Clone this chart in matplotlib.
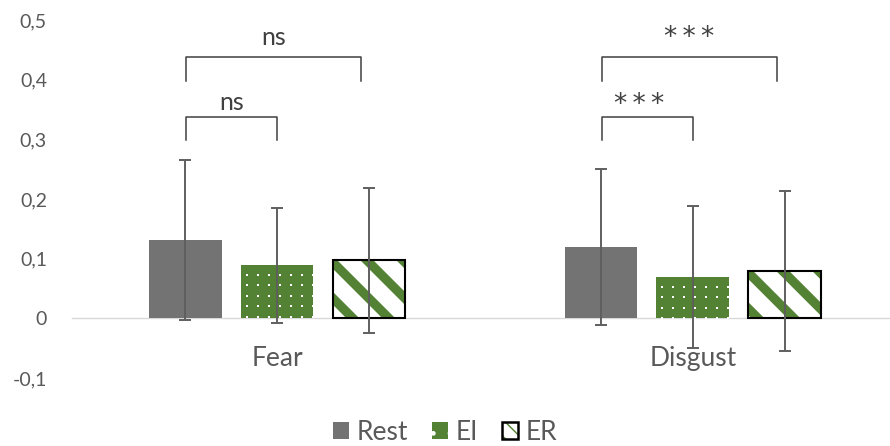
import numpy as np
import matplotlib
matplotlib.use('Agg')
from matplotlib import pyplot as plt
from matplotlib.patches import Patch, Polygon
from matplotlib.legend_handler import HandlerTuple

plt.rcParams['font.family'] = ['Lato', 'DejaVu Sans']

grey_bar = '#737373'
green = '#548235'
text_grey = '#595959'
dark = '#404040'
axis_grey = '#d9d9d9'

categories = ['Fear', 'Disgust']
conditions = ['Rest', 'EI', 'ER']
rest_mean = [0.131, 0.119]
rest_err = [0.134, 0.131]
ei_mean = [0.089, 0.069]
ei_err = [0.096, 0.119]
er_mean = [0.097, 0.079]
er_err = [0.121, 0.134]
sig_inner = ['ns', '***']   # Rest vs EI
sig_outer = ['ns', '***']   # Rest vs ER
yticks = [-0.1, 0, 0.1, 0.2, 0.3, 0.4, 0.5]
ytick_labels = ['-0,1', '0', '0,1', '0,2', '0,3', '0,4', '0,5']

W, H = 890, 446
fig = plt.figure(figsize=(W/100, H/100), dpi=100)
ax = fig.add_axes([72/W, 1-378/H, 1-72/W, (378-20)/H])
ax.set_xlim(-0.493, 1.474)
ax.set_ylim(-0.1, 0.5)

x = np.arange(len(categories))
step = 0.221
width = 0.175

b_rest = ax.bar(x - step, rest_mean, width, color=grey_bar, linewidth=0, zorder=2)
b_ei = ax.bar(x, ei_mean, width, color=green, linewidth=0, zorder=2)
b_er = ax.bar(x + step, er_mean, width, color='white', linewidth=0, zorder=2)
b_er_edge = ax.bar(x + step, er_mean, width, fill=False, edgecolor='black', linewidth=1.5, zorder=4)

err_kw = dict(fmt='none', ecolor='#5f5f5f', elinewidth=1.4, capsize=4.5, capthick=1.4, zorder=5)
ax.errorbar(x - step, rest_mean, yerr=rest_err, **err_kw)
ax.errorbar(x, ei_mean, yerr=ei_err, **err_kw)
ax.errorbar(x + step, er_mean, yerr=er_err, **err_kw)

# textures drawn in pixel space, clipped to the bars
to_data = ax.transData.inverted()

def bar_px(bar):
    (x0, y0), (x1, y1) = ax.transData.transform([(bar.get_x(), bar.get_y()),
                                                 (bar.get_x() + bar.get_width(), bar.get_y() + bar.get_height())])
    return x0, y0, x1, y1

for bar in b_er:
    x0, y0, x1, y1 = bar_px(bar)
    period, band = 36, 13
    c = x0 + y1 - 8
    while c > x0 + y0 - period:
        c -= period
    while c < x1 + y1 + period:
        xa, xb = x0 - 60, x1 + 60
        pts = [(xa, c - xa), (xb, c - xb), (xb, c + band - xb), (xa, c + band - xa)]
        poly = Polygon(to_data.transform(pts), closed=True, facecolor=green, linewidth=0, zorder=3)
        ax.add_patch(poly)
        poly.set_clip_path(bar)
        c += period

for bar in b_ei:
    x0, y0, x1, y1 = bar_px(bar)
    xs = np.arange(x0 + 6, x1, 11.0)
    ys = np.arange(y1 + 1, y0, -10.5)
    gx, gy = np.meshgrid(xs, ys)
    pts = to_data.transform(np.column_stack([gx.ravel(), gy.ravel()]))
    sc = ax.scatter(pts[:, 0], pts[:, 1], marker='s', s=3.2, color='white', linewidths=0, zorder=3)
    sc.set_clip_path(bar)

# significance brackets
for i in range(len(categories)):
    xl = x[i] - 0.219
    xr = x[i] + 0.202
    ax.plot([xl, xl, xr, xr], [0.398, 0.438, 0.438, 0.398], color=dark, linewidth=1.1, zorder=5)
    ax.plot([xl, xl, x[i], x[i]], [0.299, 0.338, 0.338, 0.299], color=dark, linewidth=1.1, zorder=5)
    if sig_outer[i] == 'ns':
        ax.text((xl + xr)/2, 0.47, sig_outer[i], ha='center', va='center', fontsize=18, color=dark)
        ax.text((xl + x[i])/2, 0.362, sig_inner[i], ha='center', va='center', fontsize=18, color=dark)
    else:
        ax.text((xl + xr)/2, 0.47, '\u2009'.join(sig_outer[i]), ha='center', va='center',
                fontsize=19, color=dark, family='DejaVu Sans')
        ax.text((xl + x[i])/2 - 0.02, 0.358, '\u2009'.join(sig_inner[i]), ha='center', va='center',
                fontsize=19, color=dark, family='DejaVu Sans')

for sp in ['top', 'right', 'left']:
    ax.spines[sp].set_visible(False)
ax.spines['bottom'].set_position(('data', 0))
ax.spines['bottom'].set_color(axis_grey)
ax.spines['bottom'].set_linewidth(1.0)
ax.spines['bottom'].set_zorder(1)

ax.set_xticks(x)
ax.set_xticklabels(categories, fontsize=19, color=text_grey)
ax.tick_params(axis='x', length=0, pad=20)
ax.set_yticks(yticks)
ax.set_yticklabels(ytick_labels, fontsize=14, color=text_grey)
ax.tick_params(axis='y', length=0, pad=18)

h_rest = Patch(facecolor=grey_bar, linewidth=0)
h_ei = Patch(facecolor=green, edgecolor='white', hatch='.', linewidth=0)
h_er = (Patch(facecolor='white', edgecolor=green, hatch='\\\\', linewidth=0),
        Patch(fill=False, edgecolor='black', linewidth=1.8))
fig.legend([h_rest, h_ei, h_er], conditions, loc='center', bbox_to_anchor=(445/W, 1-432/H),
           ncol=3, frameon=False, fontsize=19, labelcolor=text_grey,
           handlelength=0.6, handleheight=0.6, handletextpad=0.3, columnspacing=0.9,
           handler_map={tuple: HandlerTuple(ndivide=1)})

fig.savefig('out.png', dpi=100)
